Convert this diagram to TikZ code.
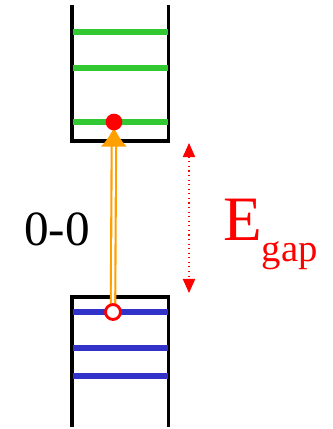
\documentclass[tikz,border=0pt]{standalone}
\usepackage{fontspec}
\setmainfont{Liberation Serif}
\usepackage{xcolor}
\usetikzlibrary{arrows.meta}
\definecolor{lvlgreen}{RGB}{50,200,50}
\definecolor{lvlblue}{RGB}{50,50,200}
\definecolor{exorange}{RGB}{255,160,0}

\begin{document}
\begin{tikzpicture}[x=0.02cm, y=-0.02cm,
    band/.style={line width=2pt},
    level/.style={line width=3.4pt},
    transition/.style={draw=exorange, double=white, line width=1.2pt, double distance=1.3pt,
      -{Latex[length=11pt, width=15pt]}, shorten >=3pt},
    elec/.style={circle, fill=red, inner sep=0pt, minimum size=9.5pt},
    hole/.style={circle, draw=red, fill=white, line width=1.6pt, inner sep=0pt, minimum size=8.5pt},
    gaparrow/.style={red, dotted, line width=0.6pt, {Triangle[length=8pt, width=7pt]}-{Triangle[length=8pt, width=7pt]}}]
    \useasboundingbox (0,0) rectangle (332,429);
    % conduction band
    \draw[band] (72,5) -- (72,141) -- (168.5,141) -- (168.5,5);
    \foreach \y in {32,68,122}
      \draw[level, lvlgreen] (73,\y) -- (167.5,\y);
    % valence band
    \draw[band] (72,427) -- (72,297) -- (168.5,297) -- (168.5,427);
    \foreach \y in {312,348,376}
      \draw[level, lvlblue] (73,\y) -- (167.5,\y);
    % 0-0 transition
    \coordinate (hpos) at (113,312);
    \coordinate (epos) at (114,122);
    \draw[transition] (hpos) -- (epos);
    \node[hole] (h) at (hpos) {};
    \node[elec] (e) at (epos) {};
    \node[anchor=base, font=\fontsize{28}{28}\selectfont] (zz) at (57,245) {0-0};
    % gap
    \coordinate (gtop) at (189,143);
    \coordinate (gbot) at (189,293);
    \draw[gaparrow] (gtop) -- (gbot);
    \node[anchor=base west, red, font=\fontsize{36}{36}\selectfont, inner sep=0pt] (eg) at (223,240)
      {E\raisebox{-12pt}{\fontsize{22}{22}\selectfont gap}};
\end{tikzpicture}
\end{document}
